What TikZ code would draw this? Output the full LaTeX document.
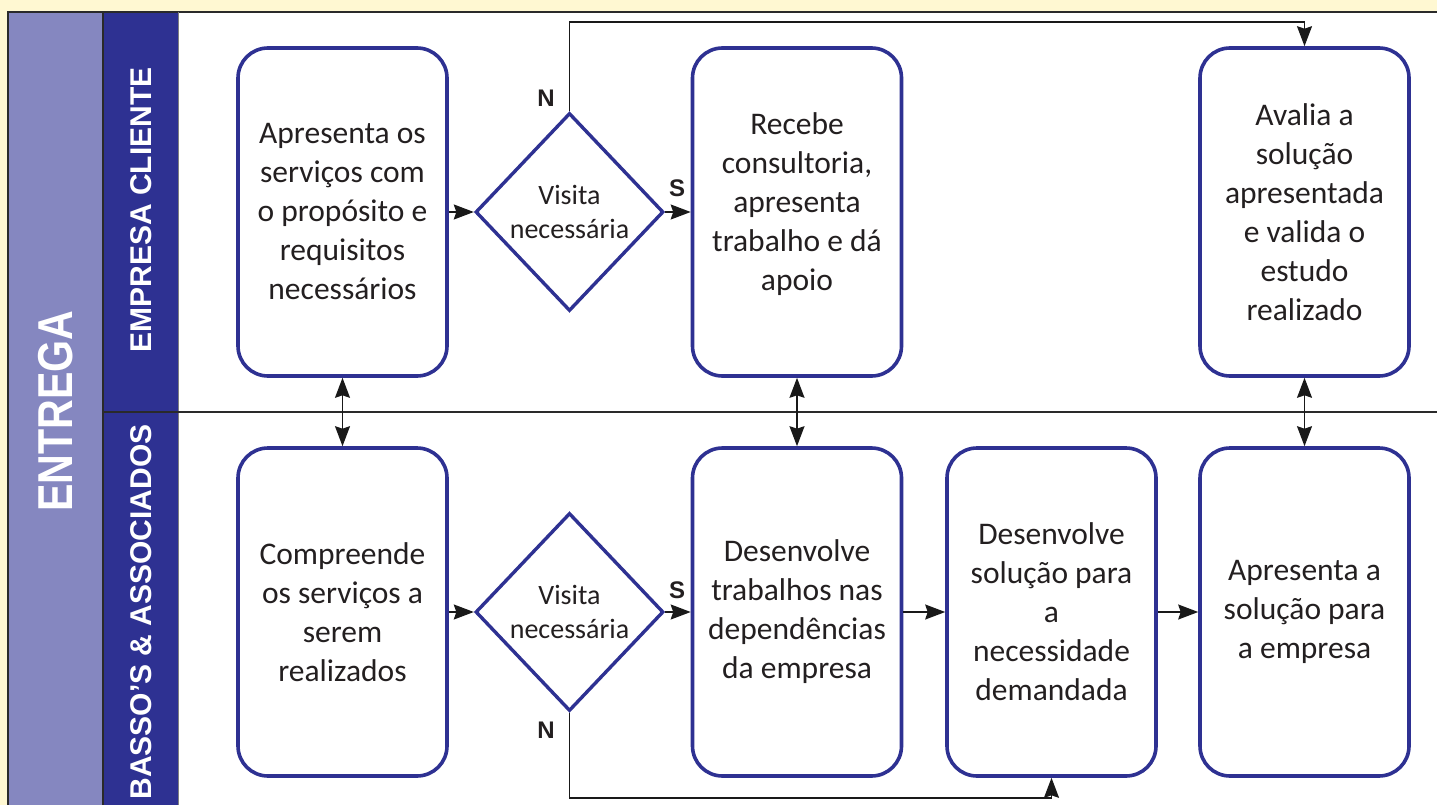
\documentclass[tikz,border=0pt]{standalone}
\usepackage{fontspec}
\setmainfont{Carlito}
\newfontfamily\arialfont{Liberation Sans}
\usetikzlibrary{shapes.geometric,arrows.meta}
\definecolor{bgyellow}{HTML}{FFF8D2}
\definecolor{lavender}{HTML}{8587C0}
\definecolor{laneblue}{HTML}{2E3192}
\definecolor{boxblue}{HTML}{2E3192}
\definecolor{textgray}{HTML}{231F20}
\definecolor{framegray}{HTML}{2A2A2A}
\tikzset{
  procbox/.style={draw=boxblue, line width=3.6pt, rounded corners=30pt, fill=white,
    minimum width=209pt, minimum height=328pt, inner sep=0pt, align=center,
    text=textgray, font=\fontsize{31.5}{39}\selectfont},
  decbox/.style={draw=boxblue, line width=3.4pt, diamond, fill=white, inner sep=0pt,
    minimum width=188pt, minimum height=198pt, align=center,
    text=textgray, font=\fontsize{28}{34}\selectfont},
  conn/.style={draw=black!90, line width=1.5pt},
  tip/.tip={Stealth[length=20pt,width=15pt,inset=2.5pt]},
  arr/.style={conn, -tip},
  dbl/.style={conn, tip-tip},
  lbl/.style={font=\arialfont\bfseries\fontsize{24}{24}\selectfont, text=textgray, inner sep=0pt},
  lanelbl/.style={rotate=90, text=white, inner sep=0pt, font=\arialfont\bfseries\fontsize{30}{30}\selectfont}
}
\begin{document}
\begin{tikzpicture}[x=1pt,y=-1pt]
\useasboundingbox (0,0) rectangle (1437,805);
% background and lanes
\fill[bgyellow] (0,0) rectangle (1437,805);
\fill[lavender] (8,12) rectangle (103,805);
\fill[laneblue] (103,12) rectangle (178,805);
\fill[white] (178,12) rectangle (1437,805);
\draw[framegray, line width=1.6pt] (8,805) -- (8,12) -- (1437,12);
\draw[framegray, line width=1.4pt] (103,12) -- (103,805);
\draw[gray, line width=1pt] (178,12) -- (178,805);
\draw[framegray, line width=2pt] (103,412) -- (1437,412);
% lane titles
\node[rotate=90, text=white, inner sep=0pt] (entrega) at (56,411)
  {\arialfont\bfseries\fontsize{49}{49}\selectfont\scalebox{0.84}[1]{ENTREGA}};
\node[lanelbl] (cliente) at (141,210) {EMPRESA CLIENTE};
\node[lanelbl] (basso) at (141,612) {BASSO’S \& ASSOCIADOS};
% top row
\node[procbox] (A) at (342.5,212) {Apresenta os\\serviços com\\o propósito e\\requisitos\\necessários};
\node[decbox] (D1) at (569.5,212) {Visita\\necessária};
\node[procbox] (B) at (797,212) {};
\node[text=textgray, align=center, font=\fontsize{31.5}{39}\selectfont, inner sep=0pt] (Btxt) at (797,204) {Recebe\\consultoria,\\apresenta\\trabalho e dá\\apoio};
\node[procbox] (C) at (1304.5,212) {Avalia a\\solução\\apresentada\\e valida o\\estudo\\realizado};
% bottom row
\node[procbox] (D) at (342.5,612) {Compreende\\os serviços a\\serem\\realizados};
\node[decbox] (D2) at (569.5,612) {Visita\\necessária};
\node[procbox] (E) at (797,612) {Desenvolve\\trabalhos nas\\dependências\\da empresa};
\node[procbox] (F) at (1051.5,612) {Desenvolve\\solução para\\a\\necessidade\\demandada};
\node[procbox] (G) at (1304.5,612) {Apresenta a\\solução para\\a empresa};
% connectors
\coordinate (topc) at (1304.5,22);
\coordinate (botc) at (1051.5,798);
\draw[arr] (A.east) -- (D1.west);
\draw[arr] (D1.east) -- (B.west);
\draw[arr] (D1.north) |- (topc) -- (C.north);
\draw[dbl] (A.south) -- (D.north);
\draw[dbl] (B.south) -- (E.north);
\draw[dbl] (C.south) -- (G.north);
\draw[arr] (D.east) -- (D2.west);
\draw[arr] (D2.east) -- (E.west);
\draw[arr] (D2.south) |- (botc) -- (F.south);
\draw[arr] (E.east) -- (F.west);
\draw[arr] (F.east) -- (G.west);
% labels
\node[lbl] (s1) at (677,188) {S};
\node[lbl] (n1) at (546,98) {N};
\node[lbl] (s2) at (677,590) {S};
\node[lbl] (n2) at (546,730) {N};
\end{tikzpicture}
\end{document}
